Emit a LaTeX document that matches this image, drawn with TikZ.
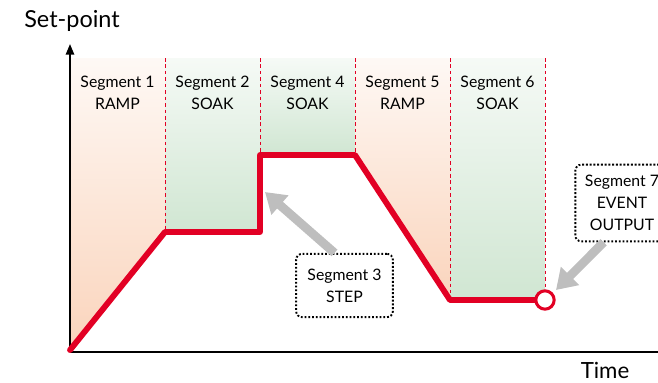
\documentclass[tikz,border=0pt]{standalone}
\usepackage{fontspec}
\setmainfont{Lato}
\usetikzlibrary{arrows.meta}

\definecolor{segred}{RGB}{226,0,36}
\definecolor{rampfill}{RGB}{250,212,188}
\definecolor{soakfill}{RGB}{208,230,210}
\definecolor{pointergray}{RGB}{190,190,190}

\begin{document}
\begin{tikzpicture}[
    x=0.03cm, y=-0.03cm,
    axis/.style={line width=1.6pt,black},
    profile/.style={line width=5pt,draw=segred,line join=round,line cap=round},
    divider/.style={draw=segred,line width=0.7pt,dash pattern=on 3pt off 2.5pt},
    ramp/.style={top color=rampfill!15,bottom color=rampfill},
    soak/.style={top color=soakfill!20,bottom color=soakfill},
    seglabel/.style={align=center,font=\fontsize{13.5}{19}\selectfont},
    callout/.style={draw,line width=1.6pt,dash pattern=on 1.6pt off 1.6pt,rounded corners=5pt,
        align=center,fill=white,font=\fontsize{13.5}{19}\selectfont,inner sep=0pt},
    pointer/.style={draw=pointergray,line width=7.5pt,-{Triangle[width=21pt,length=17pt]}}
]
    \useasboundingbox (0,0) rectangle (658,382);

    % Define profile points
    \coordinate (p0) at (70,350);
    \coordinate (p1) at (165,232);
    \coordinate (p2) at (260,232);
    \coordinate (p3) at (260,155);
    \coordinate (p4) at (355,155);
    \coordinate (p5) at (450,300);
    \coordinate (p6) at (545,300);

    % Shaded segments
    \fill[ramp] (70,58) -- (165,58) -- (p1) -- (p0) -- cycle;
    \fill[soak] (165,58) rectangle (p2);
    \fill[soak] (260,58) rectangle (p4);
    \fill[ramp] (355,58) -- (450,58) -- (p5) -- (p4) -- cycle;
    \fill[soak] (450,58) rectangle (p6);

    % Segment borders
    \draw[divider] (165,58) -- (p1);
    \draw[divider] (260,58) -- (p3);
    \draw[divider] (355,58) -- (p4);
    \draw[divider] (450,58) -- (p5);
    \draw[divider] (545,58) -- (p6);

    % Axes
    \coordinate (origin) at (70,352);
    \coordinate (ytop) at (70,44);
    \coordinate (xend) at (662,352);
    \draw[axis,-{Triangle[width=7pt,length=9pt]}] (origin) -- (ytop);
    \draw[axis] (origin) -- (xend);
    \node[font=\fontsize{20}{22}\selectfont] (ylab) at (72,21) {Set-point};
    \node[font=\fontsize{19}{22}\selectfont] (xlab) at (605,370) {Time};

    % Segment labels
    \node[seglabel] (s1) at (117.5,93) {Segment 1\\RAMP};
    \node[seglabel] (s2) at (212.5,93) {Segment 2\\SOAK};
    \node[seglabel] (s4) at (307.5,93) {Segment 4\\SOAK};
    \node[seglabel] (s5) at (402.5,93) {Segment 5\\RAMP};
    \node[seglabel] (s6) at (497.5,93) {Segment 6\\SOAK};

    % Set-point profile
    \draw[profile] (p0) -- (p1) -- (p2) -- (p3) -- (p4) -- (p5) -- (p6);
    \node[circle,draw=segred,fill=white,line width=2.6pt,minimum size=0.55cm,inner sep=0pt] (ev) at (p6) {};

    % Callouts
    \node[callout,minimum width=2.9cm,minimum height=1.9cm] (step) at (344.5,285.5) {Segment 3\\STEP};
    \node[callout,minimum width=2.8cm,minimum height=2.3cm] (event) at (622,203) {Segment 7\\EVENT\\OUTPUT};
    \coordinate (t3) at (265,192);
    \coordinate (t7) at (556,290);
    \draw[pointer] ([xshift=-0.3cm]step.north) -- (t3);
    \draw[pointer] ([xshift=-0.55cm]event.south) -- (t7);
\end{tikzpicture}
\end{document}
